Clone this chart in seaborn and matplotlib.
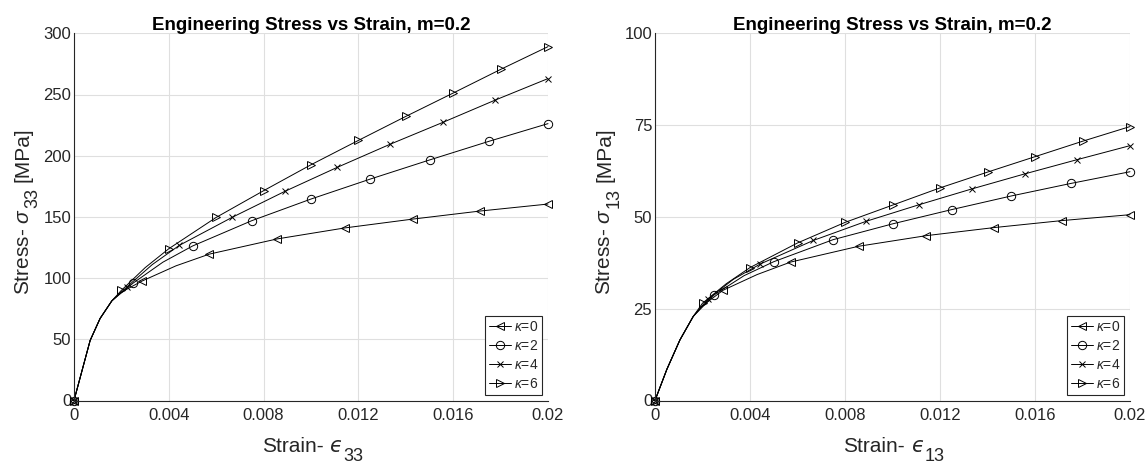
import numpy as np
import matplotlib
matplotlib.use("Agg")
import matplotlib.pyplot as plt
from matplotlib.lines import Line2D
import seaborn as sns

# ---------------------------------------------------------------------------
# Data: engineering stress (MPa) vs strain for kappa = 0, 2, 4, 6 (m = 0.2)
# Marker points along each curve, plus a few extra curve vertices.
# ---------------------------------------------------------------------------
kappa_labels = [r"$\kappa$=0", r"$\kappa$=2", r"$\kappa$=4", r"$\kappa$=6"]
kappa_markers = ["<", "o", "x", ">"]

strain_k0 = [0.0, 0.00286, 0.00571, 0.00857, 0.01143, 0.01429, 0.01714, 0.02]
strain_k2 = [0.0, 0.0025, 0.005, 0.0075, 0.01, 0.0125, 0.015, 0.0175, 0.02]
strain_k4 = [0.0, 0.00222, 0.00444, 0.00667, 0.00889, 0.01111, 0.01333,
             0.01556, 0.01778, 0.02]
strain_k6 = [0.0, 0.002, 0.004, 0.006, 0.008, 0.01, 0.012, 0.014, 0.016,
             0.018, 0.02]

# normal component sigma_33
s33_k0 = [0.0, 97.5, 119.6, 132.0, 141.0, 148.2, 154.8, 160.5]
s33_k2 = [0.0, 96.0, 126.2, 146.9, 164.6, 180.9, 196.5, 211.7, 226.2]
s33_k4 = [0.0, 92.6, 126.7, 149.6, 170.8, 190.5, 209.3, 227.2, 245.5, 263.0]
s33_k6 = [0.0, 90.0, 124.0, 149.6, 171.4, 192.6, 212.5, 232.1, 251.2, 270.5, 289.1]

# shear component sigma_13
s13_k0 = [0.0, 30.0, 37.7, 42.0, 44.9, 47.1, 49.0, 50.6]
s13_k2 = [0.0, 28.8, 37.8, 43.8, 48.1, 52.0, 55.7, 59.1, 62.3]
s13_k4 = [0.0, 27.6, 37.2, 43.6, 48.8, 53.3, 57.6, 61.7, 65.6, 69.4]
s13_k6 = [0.0, 26.5, 36.2, 42.9, 48.5, 53.2, 57.9, 62.2, 66.4, 70.6, 74.6]

# common initial (elastic / early yield) branch shared by all kappa
onset_strain_33 = [0.00068, 0.0011, 0.0016]
onset_s33 = [49.0, 67.0, 81.5]
onset_strain_13 = [0.0005, 0.00105, 0.00161]
onset_s13 = [8.5, 16.5, 22.9]

# additional curve vertices between markers
extra_strain_k0 = [0.002, 0.0043]
extra_strain_k2 = [0.00375]
extra_strain_k4 = [0.0033]
extra_strain_k6 = [0.003]
extra_s33_k0 = [88.5, 110.0]
extra_s33_k2 = [113.0]
extra_s33_k4 = [111.0]
extra_s33_k6 = [108.5]
extra_s13_k0 = [25.8, 34.3]
extra_s13_k2 = [34.0]
extra_s13_k4 = [33.0]
extra_s13_k6 = [31.8]

strain_marks = [strain_k0, strain_k2, strain_k4, strain_k6]
extra_strains = [extra_strain_k0, extra_strain_k2, extra_strain_k4, extra_strain_k6]
s33_marks = [s33_k0, s33_k2, s33_k4, s33_k6]
s13_marks = [s13_k0, s13_k2, s13_k4, s13_k6]
extra_s33 = [extra_s33_k0, extra_s33_k2, extra_s33_k4, extra_s33_k6]
extra_s13 = [extra_s13_k0, extra_s13_k2, extra_s13_k4, extra_s13_k6]

x_ticks = [0, 0.004, 0.008, 0.012, 0.016, 0.02]
x_ticklabels = ["0", "0.004", "0.008", "0.012", "0.016", "0.02"]
y33_ticks = [0, 50, 100, 150, 200, 250, 300]
y13_ticks = [0, 25, 50, 75, 100]

title_text = "Engineering Stress vs Strain, m=0.2"

# ---------------------------------------------------------------------------
sns.set_theme(style="white")
plt.rcParams["font.family"] = ["Liberation Sans", "DejaVu Sans"]
plt.rcParams["mathtext.fontset"] = "custom"
plt.rcParams["mathtext.rm"] = "Liberation Sans"
plt.rcParams["mathtext.it"] = "Liberation Sans:italic"
plt.rcParams["mathtext.bf"] = "Liberation Sans:bold"

AX_COLOR = "#262626"
GRID_COLOR = "#dfdfdf"
W, H = 1145, 463

fig = plt.figure(figsize=(W / 100, H / 100), dpi=100)
ax_l = fig.add_axes([74 / W, 1 - 400.5 / H, 474 / W, 367.2 / H])
ax_r = fig.add_axes([655 / W, 1 - 400.5 / H, 475 / W, 367.2 / H])


def draw_curves(ax, onset_x, onset_y, marks_y, extras_y):
    handles = []
    for i in range(4):
        mx = list(strain_marks[i])
        my = list(marks_y[i])
        xs = np.array([mx[0]] + onset_x + mx[1:] + extra_strains[i])
        ys = np.array([my[0]] + onset_y + my[1:] + extras_y[i])
        is_mark = np.array([True] + [False] * len(onset_x)
                           + [True] * (len(mx) - 1) + [False] * len(extras_y[i]))
        order = np.argsort(xs, kind="stable")
        xs, ys, is_mark = xs[order], ys[order], is_mark[order]
        ms = 4.5 if kappa_markers[i] == "x" else 6
        sns.lineplot(x=xs, y=ys, ax=ax, sort=False, estimator=None,
                     color="black", lw=0.7, marker=kappa_markers[i],
                     markevery=list(np.flatnonzero(is_mark)), markersize=ms,
                     mfc="none", mec="black", mew=0.7, clip_on=False)
        handles.append(Line2D([], [], color="black", lw=0.7,
                              marker=kappa_markers[i], markersize=ms,
                              mfc="none", mec="black", mew=0.7,
                              label=kappa_labels[i]))
    return handles


def style_axes(ax, yticks):
    ax.set_xlim(0, 0.02)
    ax.set_ylim(yticks[0], yticks[-1])
    ax.set_xticks(x_ticks)
    ax.set_xticklabels(x_ticklabels)
    ax.set_yticks(yticks)
    ax.grid(True, color=GRID_COLOR, lw=0.8)
    ax.set_axisbelow(True)
    for side in ("top", "right"):
        ax.spines[side].set_visible(False)
    for side in ("left", "bottom"):
        ax.spines[side].set_color(AX_COLOR)
        ax.spines[side].set_linewidth(0.8)
    ax.tick_params(axis="both", direction="in", length=4, width=0.6,
                   color=AX_COLOR, labelcolor=AX_COLOR, labelsize=12)
    ax.tick_params(axis="x", pad=5.5)
    ax.tick_params(axis="y", pad=2)
    ax.set_title(title_text, fontsize=13.5, fontweight="bold", color="black",
                 pad=2.5)
    ax.set_xlabel("")
    ax.set_ylabel("")


h_l = draw_curves(ax_l, onset_strain_33, onset_s33, s33_marks, extra_s33)
h_r = draw_curves(ax_r, onset_strain_13, onset_s13, s13_marks, extra_s13)
style_axes(ax_l, y33_ticks)
style_axes(ax_r, y13_ticks)

for ax, handles in ((ax_l, h_l), (ax_r, h_r)):
    leg = ax.legend(handles=handles, loc="lower right", fontsize=10,
                    frameon=True, fancybox=False, framealpha=1,
                    edgecolor=AX_COLOR, borderpad=0.3, labelspacing=0.35,
                    handlelength=1.6, handletextpad=0.2, borderaxespad=0.4)
    leg.get_frame().set_linewidth(0.8)
    for t in leg.get_texts():
        t.set_color(AX_COLOR)

# ---------------------------------------------------------------------------
# Axis labels with a large, well-dropped subscript (TeX-interpreter look)
# ---------------------------------------------------------------------------
renderer = fig.canvas.get_renderer()


def text_width(s, size, **kw):
    t = fig.text(0, 0, s, fontsize=size, **kw)
    w = t.get_window_extent(renderer).width
    t.remove()
    return w


LABEL_SIZE = 15
SUB_SIZE = 13
SUB_DROP = 8.5
GREEK = dict(family=["DejaVu Sans"], style="italic")


def compose_label(parts, center, baseline, vertical):
    """parts: (text, fontsize, drop_px, gap_before_px, text kwargs);
    pixel coordinates measured from the top-left of the figure."""
    widths = [gap + text_width(s, sz, **kw) for s, sz, _, gap, kw in parts]
    total = sum(widths)
    pos = ((H - center) if vertical else center) - total / 2
    for (s, sz, drop, gap, kw), w in zip(parts, widths):
        pos += gap
        if vertical:
            fig.text((baseline + drop) / W, pos / H, s, fontsize=sz,
                     rotation=90, rotation_mode="anchor", ha="left",
                     va="baseline", color=AX_COLOR, **kw)
        else:
            fig.text(pos / W, 1 - (baseline + drop) / H, s, fontsize=sz,
                     ha="left", va="baseline", color=AX_COLOR, **kw)
        pos += w - gap


for comp, x0, x1 in (("33", 74, 548), ("13", 655, 1130)):
    compose_label([("Strain-", LABEL_SIZE, 0, 0, {}),
                   ("\u03f5", LABEL_SIZE, 0, 6.0, GREEK),
                   (comp, SUB_SIZE, SUB_DROP, 0.5, {})],
                  center=(x0 + x1) / 2 + 1.5, baseline=452.5, vertical=False)
    compose_label([(r"Stress- $\sigma$", LABEL_SIZE, 0, 0, {}),
                   (comp, SUB_SIZE, SUB_DROP, 0.5, {}),
                   ("[MPa]", LABEL_SIZE, 0, 5.5, {})],
                  center=211.5, baseline=x0 - 45, vertical=True)

fig.savefig("out.png", dpi=100)
